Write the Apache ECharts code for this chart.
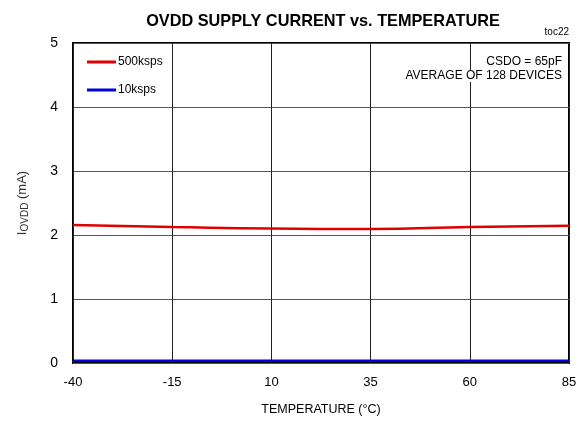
<!DOCTYPE html>
<html>
<head>
<meta charset="utf-8">
<script src="https://cdn.jsdelivr.net/npm/echarts@6/dist/echarts.min.js"></script>
<style>html,body{margin:0;padding:0;background:#fff;}#c{width:584px;height:421px;}</style>
</head>
<body>
<div id="c"></div>
<script>
var temperatures = [-40, -15, 10, 35, 60, 85];
var series500k = [2.155, 2.125, 2.10, 2.095, 2.125, 2.145];
var series10k = [0.035, 0.035, 0.035, 0.035, 0.035, 0.035];
var xTicks = [-40, -15, 10, 35, 60, 85];
var yTicks = [0, 1, 2, 3, 4, 5];

function pairs(xs, ys) { return xs.map(function (x, i) { return [x, ys[i]]; }); }

var chart = echarts.init(document.getElementById('c'), null, { renderer: 'canvas' });
var font = 'Liberation Sans, Arial, sans-serif';
chart.setOption({
  animation: false,
  backgroundColor: '#fff',
  title: {
    text: 'OVDD SUPPLY CURRENT vs. TEMPERATURE',
    left: 318, top: 9, textAlign: 'center',
    textStyle: { fontFamily: font, fontWeight: 'bold', fontSize: 16.3, color: '#000' }
  },
  legend: {
    orient: 'vertical', left: 82, top: 51, itemGap: 16,
    itemWidth: 29, itemHeight: 3, icon: 'rect',
    textStyle: { fontFamily: font, fontSize: 12, color: '#000', padding: [0, 0, 0, -3] },
    data: ['500ksps', '10ksps']
  },
  grid: { left: 73, right: 15, top: 43, bottom: 58, show: true, borderColor: '#000', borderWidth: 2, backgroundColor: 'transparent' },
  xAxis: {
    type: 'value', min: xTicks[0], max: xTicks[xTicks.length - 1], interval: 25,
    name: 'TEMPERATURE (°C)', nameLocation: 'middle', nameGap: 40,
    nameTextStyle: { fontFamily: font, fontSize: 12.5, color: '#000' },
    axisLine: { show: false }, axisTick: { show: false },
    axisLabel: { fontFamily: font, fontSize: 13, color: '#000', margin: 13 },
    splitLine: { show: true, lineStyle: { color: '#222', width: 1 } }
  },
  yAxis: {
    type: 'value', min: yTicks[0], max: yTicks[yTicks.length - 1], interval: 1,
    name: '{a|I}{b|OVDD}{a| (mA)}', nameLocation: 'middle', nameGap: 43, nameRotate: 90,
    nameTextStyle: {
      fontFamily: font, color: '#333',
      rich: {
        a: { fontFamily: font, fontSize: 13, color: '#333' },
        b: { fontFamily: font, fontSize: 10, color: '#333', verticalAlign: 'bottom', padding: [6, 0, 0, 0] }
      }
    },
    axisLine: { show: false }, axisTick: { show: false },
    axisLabel: { fontFamily: font, fontSize: 14, color: '#000', margin: 15 },
    splitLine: { show: true, lineStyle: { color: '#555', width: 1 } }
  },
  graphic: [
    { type: 'text', right: 15, top: 27, style: { text: 'toc22', fontFamily: font, fontSize: 10, fill: '#000', textAlign: 'right' } },
    { type: 'text', right: 22, top: 56, z: 100, style: { text: 'CSDO = 65pF', fontFamily: font, fontSize: 12, fill: '#000', textAlign: 'right', backgroundColor: '#fff' } },
    { type: 'text', right: 22, top: 70, z: 100, style: { text: 'AVERAGE OF 128 DEVICES', fontFamily: font, fontSize: 12, fill: '#000', textAlign: 'right', backgroundColor: '#fff' } }
  ],
  series: [
    { name: '500ksps', type: 'line', smooth: true, showSymbol: false, data: pairs(temperatures, series500k), lineStyle: { color: '#e00000', width: 2.5 }, itemStyle: { color: '#e00000' } },
    { name: '10ksps', type: 'line', smooth: true, showSymbol: false, data: pairs(temperatures, series10k), lineStyle: { color: '#0000e0', width: 2.5 }, itemStyle: { color: '#0000e0' } }
  ]
});
</script>
</body>
</html>
